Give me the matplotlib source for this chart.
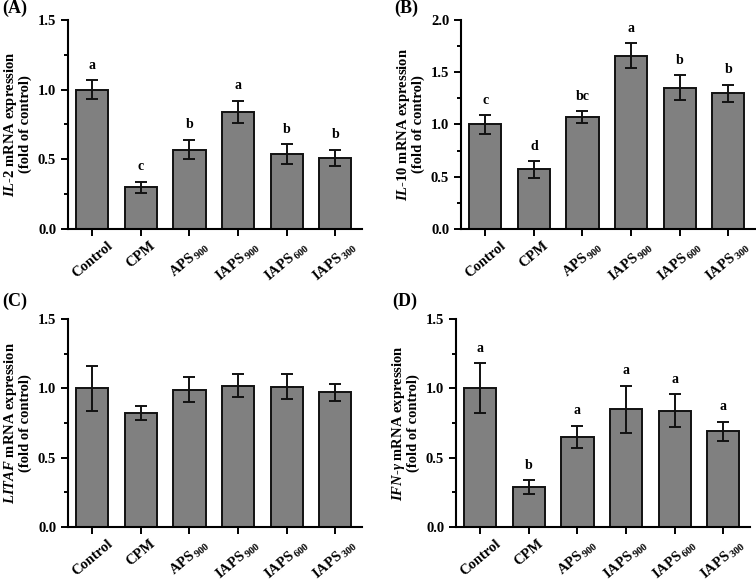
import matplotlib
matplotlib.use("Agg")
import matplotlib.pyplot as plt
from matplotlib.ticker import MultipleLocator

plt.rcParams['font.family'] = ['Liberation Serif', 'DejaVu Serif']
plt.rcParams['font.weight'] = 'bold'
plt.rcParams['mathtext.fontset'] = 'custom'
plt.rcParams['mathtext.rm'] = 'Liberation Serif:bold'
plt.rcParams['mathtext.it'] = 'Liberation Serif:italic:bold'
plt.rcParams['mathtext.bf'] = 'Liberation Serif:bold'

categories = ["Control", "CPM", r"APS$\,_{900}$", r"IAPS$\,_{900}$", r"IAPS$\,_{600}$", r"IAPS$\,_{300}$"]

il2_vals = [1.00, 0.30, 0.57, 0.84, 0.54, 0.51]
il2_err = [0.07, 0.04, 0.07, 0.08, 0.07, 0.06]
il2_letters = ["a", "c", "b", "a", "b", "b"]

il10_vals = [1.00, 0.57, 1.07, 1.66, 1.35, 1.30]
il10_err = [0.09, 0.08, 0.06, 0.12, 0.12, 0.08]
il10_letters = ["c", "d", "bc", "a", "b", "b"]

litaf_vals = [1.00, 0.82, 0.99, 1.02, 1.01, 0.97]
litaf_err = [0.16, 0.05, 0.09, 0.08, 0.09, 0.06]
litaf_letters = None

ifng_vals = [1.00, 0.29, 0.65, 0.85, 0.84, 0.69]
ifng_err = [0.18, 0.05, 0.08, 0.17, 0.12, 0.07]
ifng_letters = ["a", "b", "a", "a", "a", "a"]

W, H = 756, 582
fig = plt.figure(figsize=(W / 100, H / 100), dpi=100)

def px_axes(l, r, t, b):
    return fig.add_axes([l / W, 1 - b / H, (r - l) / W, (b - t) / H])

panels = [
    ("(A)", (68, 362, 20, 229), il2_vals, il2_err, il2_letters, 1.5, r"$\mathit{IL}$-$\mathit{2}$ mRNA expression", (2, 8)),
    ("(B)", (461, 755, 20, 229), il10_vals, il10_err, il10_letters, 2.0, r"$\mathit{IL}$-$\mathit{10}$ mRNA expression", (394, 8)),
    ("(C)", (68, 362, 319, 527), litaf_vals, litaf_err, litaf_letters, 1.5, r"$\mathit{LITAF}$ mRNA expression", (2, 301)),
    ("(D)", (456, 750, 319, 527), ifng_vals, ifng_err, ifng_letters, 1.5, r"$\mathit{IFN}$-$\mathit{\gamma}$ mRNA expression", (392, 301)),
]

for label, box, vals, errs, letters, ymax, ylab, lpos in panels:
    ax = px_axes(*box)
    x = list(range(len(vals)))
    ax.bar(x, vals, width=0.66, color="#808080", edgecolor="#111111", linewidth=1.4, zorder=2)
    ax.errorbar(x, vals, yerr=errs, fmt="none", ecolor="#111111", elinewidth=1.4, capsize=4, capthick=1.4, zorder=3)
    if letters:
        for xi, v, e, t in zip(x, vals, errs, letters):
            ax.annotate(t, (xi, v + e), xytext=(0, 6), textcoords="offset points",
                        ha="center", va="bottom", fontsize=10, fontweight="bold")
    ax.set_xlim(-0.5, 5.55)
    ax.set_ylim(0, ymax)
    ax.yaxis.set_major_locator(MultipleLocator(0.5))
    ax.yaxis.set_minor_locator(MultipleLocator(0.25))
    ax.set_xticks(x)
    ax.set_xticklabels(categories, rotation=40, ha="center", fontsize=10.5, fontweight="bold")
    for t in ax.get_yticklabels():
        t.set_fontweight("bold")
        t.set_fontsize(10.5)
    ax.tick_params(axis="both", which="major", direction="out", length=5, width=1.4)
    ax.tick_params(axis="x", which="major", pad=2)
    ax.tick_params(axis="y", which="minor", direction="out", length=3, width=1.4)
    ax.spines["top"].set_visible(False)
    ax.spines["right"].set_visible(False)
    ax.spines["left"].set_linewidth(1.5)
    ax.spines["bottom"].set_linewidth(1.5)
    ax.set_ylabel(ylab + "\n(fold of control)", fontsize=10.5, fontweight="bold", labelpad=4, linespacing=1.0)
    fig.text(lpos[0] / W, 1 - lpos[1] / H, label, fontsize=13, fontweight="bold", ha="left", va="center")

fig.savefig("out.png", dpi=100)
